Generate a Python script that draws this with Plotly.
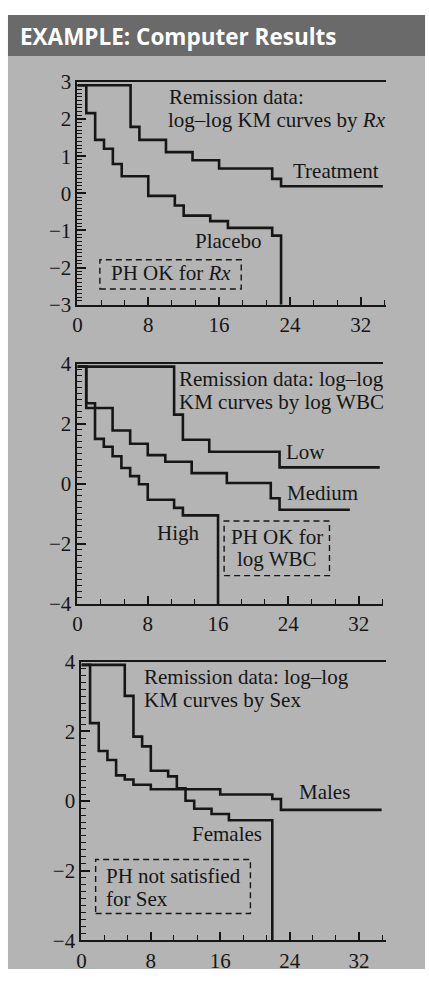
import plotly.graph_objects as go

W, H = 429, 984

# Remission data: log-log KM curves by Rx
rx_trt_time = [0, 6, 7, 10, 13, 16, 22, 23, 34.5]
rx_trt_val = [2.91, 1.79, 1.44, 1.11, 0.89, 0.67, 0.39, 0.19, 0.19]
rx_pla_time = [0, 1, 2, 3, 4, 5, 8, 11, 12, 15, 17, 22, 23]
rx_pla_val = [2.91, 2.16, 1.44, 1.20, 0.79, 0.46, -0.07, -0.33, -0.60, -0.75, -0.93, -1.14, -3.0]

# Remission data: log-log KM curves by log WBC
wbc_low_time = [0, 11, 12, 15, 23, 34.4]
wbc_low_val = [3.91, 2.31, 1.47, 1.07, 0.55, 0.55]
wbc_med_time = [0, 1, 4, 6, 8, 10, 13, 17, 22, 23, 31]
wbc_med_val = [3.91, 2.53, 1.78, 1.34, 0.96, 0.74, 0.36, 0.03, -0.48, -0.86, -0.86]
wbc_high_time = [0, 1, 2, 3, 4, 5, 6, 7, 8, 11, 12, 16]
wbc_high_val = [3.91, 2.69, 1.50, 1.24, 0.92, 0.53, 0.26, -0.01, -0.53, -0.80, -1.05, -4.0]

# Remission data: log-log KM curves by Sex
sex_m_time = [0, 1, 2, 3, 4, 5, 6, 8, 16, 22, 23, 34.6]
sex_m_val = [3.91, 2.24, 1.44, 1.18, 0.74, 0.62, 0.47, 0.34, 0.19, 0.06, -0.25, -0.25]
sex_f_time = [0, 5, 6, 7, 8, 10, 11, 12, 13, 15, 17, 22]
sex_f_val = [3.91, 3.02, 1.85, 1.57, 0.87, 0.71, 0.37, 0.01, -0.22, -0.37, -0.55, -4.0]

# axis ranges and tick spacing per panel
x_ticks = [0, 8, 16, 24, 32]
panel_yrange = [[-3, 3], [-4, 4], [-4, 4]]
panel_ydtick = [1, 2, 2]
panel_yminor = [0.1, 0.2, 0.2]
panel_xrange = [[0, 34.8], [0, 34.8], [0, 35.05]]

SERIF = "Liberation Serif, Times New Roman, serif"
INK = "#161616"
BODY = "#b4b4b4"
HEAD = "#6a6a6a"


def fx(px):
    return px / W


def fy(py):
    return 1 - py / H


# pixel boxes of the three plotting areas: (left, right, top, bottom)
boxes = [(73.3, 385, 71.7, 300), (73.3, 382.7, 360.7, 606.7), (77.3, 385, 666, 951.7)]

fig = go.Figure()

curves = [
    (1, rx_trt_time, rx_trt_val),
    (1, rx_pla_time, rx_pla_val),
    (2, wbc_low_time, wbc_low_val),
    (2, wbc_med_time, wbc_med_val),
    (2, wbc_high_time, wbc_high_val),
    (3, sex_m_time, sex_m_val),
    (3, sex_f_time, sex_f_val),
]
for k, t, v in curves:
    sfx = "" if k == 1 else str(k)
    fig.add_trace(go.Scatter(
        x=t, y=v, mode="lines", line=dict(shape="hv", color=INK, width=2.6),
        xaxis="x" + sfx, yaxis="y" + sfx, showlegend=False, hoverinfo="skip",
    ))

layout = dict(
    width=W, height=H, margin=dict(l=0, r=0, t=0, b=0), autosize=False,
    paper_bgcolor="white", plot_bgcolor="rgba(0,0,0,0)", showlegend=False,
)
for i, (l, r, t, b) in enumerate(boxes):
    sfx = "" if i == 0 else str(i + 1)
    layout["xaxis" + sfx] = dict(
        domain=[fx(l), fx(r)], range=panel_xrange[i], anchor="y" + sfx,
        tickmode="array", tickvals=x_ticks, ticks="inside", ticklen=8, tickwidth=1.6,
        tickcolor=INK, showline=True, linewidth=2, linecolor=INK, mirror=True,
        showgrid=False, zeroline=False,
        tickfont=dict(family=SERIF, size=21, color=INK),
        minor=dict(dtick=8 / 3, tick0=0, ticks="inside", ticklen=5, tickwidth=1.4,
                   tickcolor=INK, showgrid=False),
    )
    layout["yaxis" + sfx] = dict(
        domain=[fy(b), fy(t)], range=panel_yrange[i], anchor="x" + sfx,
        dtick=panel_ydtick[i], tick0=0, ticks="inside", ticklen=9, tickwidth=1.6,
        tickcolor=INK, showline=True, linewidth=2, linecolor=INK, mirror=False,
        showgrid=False, zeroline=False,
        tickfont=dict(family=SERIF, size=21, color=INK),
        minor=dict(dtick=panel_yminor[i], tick0=0, ticks="inside", ticklen=5,
                   tickwidth=1.4, tickcolor=INK, showgrid=False),
    )
fig.update_layout(**layout)

shapes = [
    dict(type="rect", xref="paper", yref="paper", x0=fx(3), x1=fx(425), y0=fy(981), y1=fy(45),
         fillcolor=BODY, line=dict(width=0), layer="below"),
    dict(type="rect", xref="paper", yref="paper", x0=fx(3), x1=fx(425), y0=fy(45), y1=fy(3),
         fillcolor=HEAD, line=dict(width=0), layer="below"),
]
dash_boxes = [(96, 239, 254, 284), (221.7, 328.3, 521.7, 577.7), (91.7, 248.3, 868.7, 924)]
for l, r, t, b in dash_boxes:
    shapes.append(dict(type="rect", xref="paper", yref="paper", x0=fx(l), x1=fx(r),
                       y0=fy(b), y1=fy(t), line=dict(color=INK, width=1.4, dash="6px,4px")))
fig.update_layout(shapes=shapes)

ann = []


def label(text, x, y, anchor="left", size=21):
    ann.append(dict(text=text, x=fx(x), y=fy(y), xref="paper", yref="paper",
                    xanchor=anchor, yanchor="middle", showarrow=False,
                    font=dict(family=SERIF, size=size, color=INK)))


label("Remission data:", 164, 87)
label("log–log KM curves by <i>Rx</i>", 163, 111)
label("Treatment", 289, 163)
label("Placebo", 190, 235)
label("PH OK for <i>Rx</i>", 167.5, 268, anchor="center")

label("Remission data: log–log", 174, 376)
label("KM curves by log WBC", 174, 400)
label("Low", 282, 451)
label("Medium", 283, 493)
label("High", 152, 534)
label("PH OK for", 275, 538, anchor="center")
label("log WBC", 275, 561, anchor="center")

label("Remission data: log–log", 139, 682)
label("KM curves by Sex", 139, 705)
label("Males", 295, 800)
label("Females", 187, 843)
label("PH not satisfied", 100, 886)
label("for Sex", 100, 909)

ann.append(dict(text="<b>EXAMPLE: Computer Results</b>", x=fx(13), y=fy(25), xref="paper",
                yref="paper", xanchor="left", yanchor="middle", showarrow=False,
                font=dict(family="Open Sans, sans-serif", size=22.5, color="white")))
fig.update_layout(annotations=ann)

fig.write_html("out.html")
